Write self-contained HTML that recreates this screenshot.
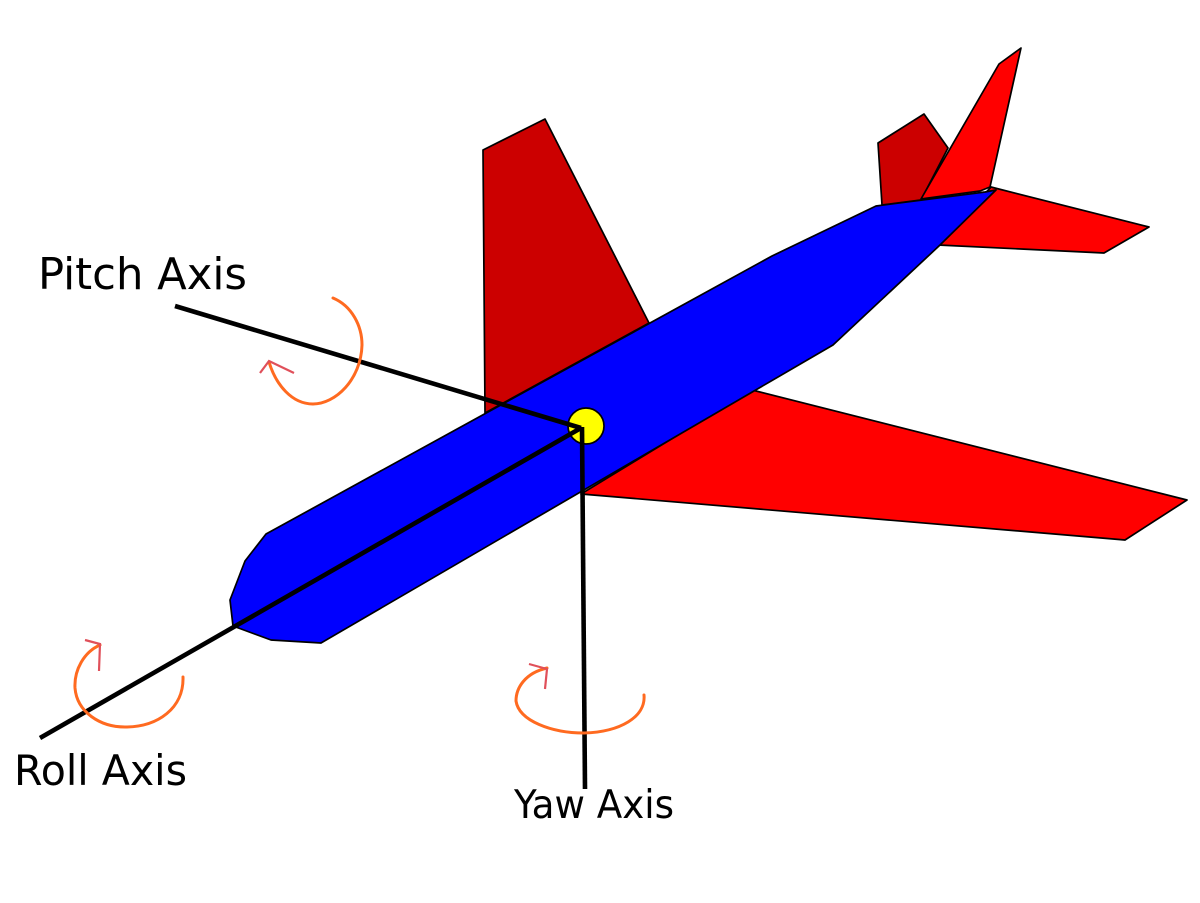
<!DOCTYPE html>
<html><head><meta charset="utf-8"><style>html,body{margin:0;padding:0;background:#fff}svg{display:block}text{font-family:"DejaVu Sans",sans-serif;fill:#000}</style></head>
<body>
<svg xmlns="http://www.w3.org/2000/svg" width="1200" height="903" viewBox="0 0 1200 903">
<rect width="1200" height="903" fill="#fff"/>
<g stroke="#000" stroke-width="1.7" stroke-linejoin="round">
<polygon points="483,150 545,119 649,323 485,413" fill="#cc0000"/>
<polygon points="878,143 924,114 948,148 921,200 882,205" fill="#cc0000"/>
<polygon points="921,199 999,64 1021,48 990,187 980,191" fill="#ff0000"/>
<polygon points="991,187 1149,227 1104,253 938,245" fill="#ff0000"/>
<polygon points="752,390 1187,500 1125,540 581,494" fill="#ff0000"/>
<polygon points="266,534 772,256 876,206 985,192 996,190 940,245 833,345 321,643 271,640 233,626 230,600 245,561" fill="#0000ff"/>
<circle cx="586" cy="426" r="18" fill="#ffff00"/>
</g>
<g stroke="#000" stroke-width="4.6" fill="none">
<line x1="175" y1="306" x2="581" y2="428"/>
<line x1="40" y1="738" x2="581" y2="428"/>
<line x1="582" y1="427" x2="585" y2="789"/>
</g>
<g fill="none" stroke="#ff6a20" stroke-width="3" stroke-linecap="round">
<path d="M333,298 C352,306 362,326 362,345 C361,380 335,404 313,404 C292,404 276,385 269,362"/>
<path d="M100,645 C84,652 74,670 75,688 C77,712 100,727 125,727 C158,727 184,708 183,677"/>
<path d="M547,668 C525,673 516,688 516,701 C519,721 552,733 584,733 C620,732 646,717 644,695"/>
</g>
<g fill="none" stroke="#e0505a" stroke-width="2.2" stroke-linejoin="miter">
<polyline points="260,373 269,361 294,373"/>
<polyline points="85,640 100,644 99,671"/>
<polyline points="529,664 547,669 545,689"/>
</g>
<text x="38" y="289" font-size="44" textLength="209" lengthAdjust="spacingAndGlyphs">Pitch Axis</text>
<text x="14" y="785" font-size="42" textLength="173" lengthAdjust="spacingAndGlyphs">Roll Axis</text>
<text x="514" y="818" font-size="39" textLength="160" lengthAdjust="spacingAndGlyphs">Yaw Axis</text>
</svg>
</body></html>
